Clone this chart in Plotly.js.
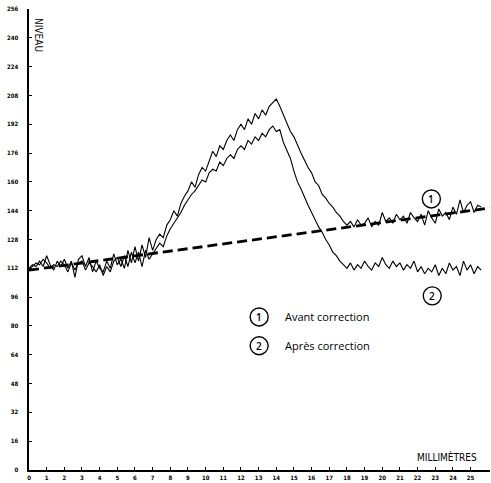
<!DOCTYPE html>
<html>
<head>
<meta charset="utf-8">
<script src="https://cdn.plot.ly/plotly-3.0.1.min.js"></script>
<style>html,body{margin:0;padding:0;background:#fff;}#chart{width:491px;height:483px;}</style>
</head>
<body>
<div id="chart"></div>
<script>
// sampling grid of the traced curves (millimetres)
const mmStart = 0;
const mmStep = 0.2;

// Curve 1 : Avant correction (niveau), x = 0.0 .. 25.6 mm
const avant = [
  112,114,113,116,113,119,114,111,116,113,
  117,112,116,107,117,119,113,118,110,116,
  112,110,116,112,120,114,117,112,122,115,
  124,116,125,118,129,122,
  128,131,129,136,139,144,141,148,152,155,
  160,157,164,168,166,172,177,174,180,178,
  183,186,183,189,192,189,195,192,198,195,
  200,197,202,204,206,202,197,193,188,185,
  180,176,172,168,165,160,158,153,151,148,
  146,143,141,138,136,
  138,135,139,136,137,140,135,138,136,143,
  138,140,137,142,139,141,137,143,140,138,
  142,136,144,140,137,145,141,143,139,146,
  142,150,143,147,149,143,147,146
];

// Curve 2 : Après correction (niveau), x = 0.0 .. 25.6 mm
const apres = [
  112,113,115,114,117,115,112,114,113,116,
  114,110,115,111,115,116,111,115,113,110,
  114,108,113,110,116,118,113,119,113,121,
  115,121,113,122,117,120,
  123,126,124,130,134,137,140,143,147,150,
  153,155,158,161,160,165,167,166,171,169,
  173,175,173,178,180,178,183,181,185,183,
  187,185,189,191,188,189,182,177,173,166,
  160,156,151,147,143,139,135,132,128,125,
  121,119,116,114,112,
  115,111,114,112,116,113,111,115,113,118,
  114,112,116,113,115,111,114,112,116,110,
  113,109,112,110,114,108,112,109,115,111,
  113,108,116,111,114,109,113,111
];

// dashed baseline
const baseX = [0, 26.1];
const baseY = [111, 145.5];

const yTicks = [0,16,32,48,64,80,96,112,128,144,160,176,192,208,224,240,256];
const xTicks = [0,1,2,3,4,5,6,7,8,9,10,11,12,13,14,15,16,17,18,19,20,21,22,23,24,25];

const legendNames = ["Avant correction", "Après correction"];
const markerLabels = ["1", "2"];

const traces = [
  {x: baseX, y: baseY, mode: 'lines', line: {color: '#000', width: 2.8, dash: '10px,5px'}, hoverinfo: 'skip'},
  {x0: mmStart, dx: mmStep, y: avant, mode: 'lines', line: {color: '#000', width: 1.1}, name: legendNames[0]},
  {x0: mmStart, dx: mmStep, y: apres, mode: 'lines', line: {color: '#000', width: 1.1}, name: legendNames[1]}
];

function circ(x, y) {
  return {type: 'circle', xref: 'x', yref: 'y', xsizemode: 'pixel', ysizemode: 'pixel',
          xanchor: x, yanchor: y, x0: -9, x1: 9, y0: -9, y1: 9,
          line: {color: '#000', width: 1.4}};
}

const lblFont = {family: 'Open Sans', size: 11, color: '#000'};
const numFont = {family: 'Open Sans', size: 10, color: '#000', weight: 600};
const tickFont = {family: 'DejaVu Sans Condensed', size: 6, color: '#000', weight: 'bold'};

const layout = {
  width: 491, height: 483,
  margin: {l: 29, r: 1, t: 9, b: 13},
  paper_bgcolor: '#fff', plot_bgcolor: '#fff',
  showlegend: false,
  xaxis: {
    range: [0, 26.1], tickvals: xTicks, ticktext: xTicks.map(String),
    showgrid: false, zeroline: false, showline: true, linecolor: '#000', linewidth: 1.6,
    ticks: 'inside', ticklen: 3, tickcolor: '#000', tickwidth: 1,
    tickfont: tickFont, ticklabelstandoff: 1
  },
  yaxis: {
    range: [0, 256], tickvals: yTicks, ticktext: yTicks.map(String),
    showgrid: false, zeroline: false, showline: true, linecolor: '#000', linewidth: 1.6,
    ticks: 'inside', ticklen: 3, tickcolor: '#000', tickwidth: 1,
    tickfont: tickFont, ticklabelstandoff: 8
  },
  shapes: [circ(22.78, 150.5), circ(22.83, 96.7), circ(13.03, 85), circ(13.03, 69)],
  annotations: [
    {x: 22.78, y: 150.5, xref: 'x', yref: 'y', text: markerLabels[0], showarrow: false, font: numFont},
    {x: 22.83, y: 96.7, xref: 'x', yref: 'y', text: markerLabels[1], showarrow: false, font: numFont},
    {x: 13.03, y: 85, xref: 'x', yref: 'y', text: markerLabels[0], showarrow: false, font: numFont},
    {x: 13.03, y: 69, xref: 'x', yref: 'y', text: markerLabels[1], showarrow: false, font: numFont},
    {x: 14.39, y: 85, xref: 'x', yref: 'y', xanchor: 'left', text: legendNames[0], showarrow: false, font: lblFont},
    {x: 14.39, y: 69, xref: 'x', yref: 'y', xanchor: 'left', text: legendNames[1], showarrow: false, font: lblFont},
    {x: 23.68, y: 7.2, xref: 'x', yref: 'y', text: 'MILLIMÈTRES', showarrow: false,
     font: {family: 'DejaVu Sans Condensed', size: 10, color: '#000'}},
    {x: 0.55, y: 241.7, xref: 'x', yref: 'y', text: 'NIVEAU', textangle: 90, showarrow: false,
     font: {family: 'DejaVu Sans Condensed', size: 10, color: '#000'}}
  ]
};

Plotly.newPlot('chart', traces, layout, {staticPlot: true, displayModeBar: false});
</script>
</body>
</html>
